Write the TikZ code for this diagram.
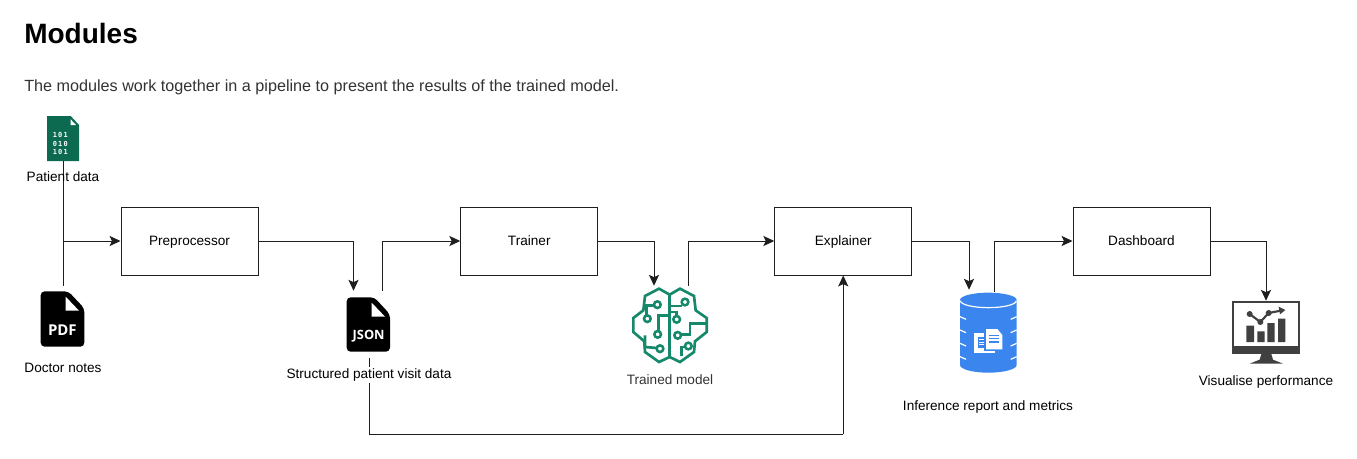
\documentclass[tikz,border=0pt]{standalone}
\usepackage{fontspec}
\setmainfont{Liberation Sans}
\newfontfamily\iconfont{Open Sans}
\newfontfamily\binfont[LetterSpace=18]{DejaVu Sans Mono}
\usetikzlibrary{arrows.meta}
\definecolor{linec}{HTML}{1E1E1E}
\definecolor{sheet}{HTML}{0B6A50}
\definecolor{braing}{HTML}{16896B}
\definecolor{dbblue}{HTML}{3B86EE}
\definecolor{mon}{HTML}{404040}
\definecolor{subt}{HTML}{333333}
\tikzset{
  modbox/.style={draw=linec,line width=0.75pt,minimum width=102.75pt,minimum height=51pt,inner sep=0pt,text height=8pt,text depth=2pt,font=\fontsize{10.2pt}{12pt}\selectfont},
  conn/.style={draw=linec,line width=0.75pt},
  arr/.style={conn,-{Stealth[length=8.2pt,width=7.6pt,inset=1.8pt]}},
  lab/.style={inner sep=0pt,font=\fontsize{10.2pt}{12pt}\selectfont},
  iconbox/.style={inner sep=0pt},
  braint/.style={draw=braing,line width=2pt,line join=miter},
  brainc/.style={draw=braing,line width=1.9pt,fill=white},
}
\begin{document}
\begin{tikzpicture}[x=0.75pt,y=-0.75pt]
\useasboundingbox (0,0) rectangle (1357,458);
\fill[white] (0,0) rectangle (1357,458);
% headings
\node[anchor=west,inner sep=0pt,font=\bfseries\fontsize{21pt}{24pt}\selectfont] (title) at (24,33) {Modules};
\node[anchor=west,inner sep=0pt,text=subt,font=\fontsize{12.14pt}{14pt}\selectfont] (intro) at (24,87) {The modules work together in a pipeline to present the results of the trained model.};
% boxes
\node[modbox] (prep) at (189.5,241) {Preprocessor};
\node[modbox] (train) at (529.25,241) {Trainer};
\node[modbox] (expl) at (843.25,241) {Explainer};
\node[modbox] (dash) at (1141.5,241) {Dashboard};
% icon anchor boxes
\node[iconbox,minimum width=24pt,minimum height=33.75pt] (patient) at (63,138.5) {};
\node[iconbox,minimum width=32.25pt,minimum height=45.75pt] (pdf) at (63,316.5) {};
\node[iconbox,minimum width=32.25pt,minimum height=50.25pt] (json) at (369,324.5) {};
\node[iconbox,minimum width=57.75pt,minimum height=60pt] (brain) at (669.5,324) {};
\node[iconbox,minimum width=42.75pt,minimum height=62.25pt] (db) at (988.5,331.5) {};
\node[iconbox,minimum width=51pt,minimum height=47.25pt] (monitor) at (1266,332.5) {};
% patient file
\begin{scope}[shift={(0,100)},x=0.25pt,y=-0.25pt]
\fill[sheet] (141,48) -- (212,48) -- (237,75) -- (237,183) -- (141,183) -- cycle;
\fill[white] (212,58) -- (212,75) -- (228,75) -- cycle;
\foreach \yy/\tt in {105/101,131/010,156/101}
  \node[white,inner sep=0pt,font=\binfont\bfseries\fontsize{5.2pt}{7pt}\selectfont] at (181,\yy) {\tt};
\end{scope}
% pdf file
\begin{scope}[shift={(0,100)},x=0.25pt,y=-0.25pt]
\fill[black,rounded corners=3pt] (122,574) -- (205,574) -- (253,625) -- (253,740) -- (122,740) -- cycle;
\fill[white] (197,590) -- (197,632) -- (237,632) -- cycle;
\node[white,inner sep=0pt,font=\iconfont\bfseries\fontsize{11.2pt}{12pt}\selectfont] at (187,690) {PDF};
\end{scope}
% json file
\begin{scope}[shift={(280,280)},x=0.25pt,y=-0.25pt]
\fill[black,rounded corners=3pt] (200,52) -- (283,52) -- (330,103) -- (330,215) -- (200,215) -- cycle;
\fill[white] (275,68) -- (275,110) -- (315,110) -- cycle;
\node[white,inner sep=0pt,font=\iconfont\bfseries\fontsize{9.6pt}{11pt}\selectfont] at (266,168) {JSON};
\end{scope}
% brain
\begin{scope}[shift={(625,282)},x=0.25pt,y=-0.25pt]
\draw[braint] (134,38) -- (102,20) -- (60,42) -- (55,85) -- (25,108) -- (25,150) -- (58,178) -- (60,210) -- (102,240) -- (134,225) -- (165,240) -- (207,210) -- (210,178) -- (245,150) -- (245,108) -- (212,85) -- (207,42) -- (165,20) -- cycle;
\draw[braint] (134,38) -- (134,225);
\draw[braint] (58,70) -- (90,70);
\draw[braint] (65,70) -- (65,100);
\draw[braint] (134,100) -- (100,100) -- (100,147);
\draw[braint] (60,160) -- (60,195) -- (95,198);
\draw[braint] (134,72) -- (172,72);
\draw[braint] (134,90) -- (155,90) -- (155,102);
\draw[braint] (245,125) -- (195,125) -- (195,158) -- (168,158);
\draw[braint] (170,222) -- (170,195) -- (182,195);
\foreach \cx/\cy in {97/68,67/110,98/157,105/200,180/60,155/112,158/160,190/192}
  \draw[brainc] (\cx,\cy) circle[radius=10];
\end{scope}
% database
\begin{scope}[shift={(940,280)},x=0.25pt,y=-0.25pt]
\fill[dbblue] (60,60) -- (60,255) arc[start angle=180,end angle=0,x radius=85,y radius=23] -- (230,60) -- cycle;
\fill[dbblue] (145,60) ellipse[x radius=85,y radius=22];
\draw[white,line width=0.9pt] (61,62) arc[start angle=180,end angle=0,x radius=84,y radius=21];
\foreach \yy in {110,150,190,230} {
  \draw[white,line width=0.9pt] (60,\yy) -- (78,\yy+8);
  \draw[white,line width=0.9pt] (230,\yy) -- (212,\yy+8);
}
\fill[white] (103,160) rectangle (165,218);
\fill[dbblue] (115,172) rectangle (135,205);
\draw[white,line width=0.7pt] (117,178) -- (132,178) (117,186) -- (132,186) (117,194) -- (132,194);
\fill[dbblue] (133,143) rectangle (192,212);
\fill[white] (138,147) -- (172,147) -- (187,165) -- (187,208) -- (138,208) -- cycle;
\draw[dbblue,line width=1pt] (146,166) -- (178,166) (146,176) -- (178,176) (146,186) -- (178,186);
\end{scope}
% monitor
\begin{scope}[shift={(1228,298)},x=0.25pt,y=-0.25pt]
\fill[mon] (12,10) rectangle (215,168);
\fill[white] (18,15) rectangle (210,145);
\fill[mon] (100,168) -- (130,168) -- (135,185) -- (165,197) -- (65,197) -- (95,185) -- cycle;
\fill[mon] (55,83) rectangle (78,132) (88,100) rectangle (110,132) (118,75) rectangle (140,132) (150,62) rectangle (172,132);
\draw[mon,line width=1.6pt] (65,48) -- (97,72) -- (122,45) -- (158,38);
\fill[mon] (172,36) -- (152,26) -- (156,49) -- cycle;
\fill[mon] (65,48) circle[radius=9] (97,72) circle[radius=9] (122,45) circle[radius=9];
\end{scope}
% connectors
\coordinate (junc) at (63,241);
\coordinate (loop) at (843.25,434);
\draw[conn] (patient.south) -- (pdf.north);
\draw[arr] (junc) -- (prep.west);
\draw[arr] (prep.east) -| ([xshift=-11.625pt]json.north);
\draw[arr] ([xshift=9.75pt]json.north) |- (train.west);
\draw[arr] (train.east) -| ([xshift=-11.625pt,yshift=-1.5pt]brain.north);
\draw[arr] ([xshift=14.25pt,yshift=-1.5pt]brain.north) |- (expl.west);
\draw[arr] (expl.east) -| ([xshift=-14.625pt]db.north);
\draw[arr] ([xshift=4.125pt,yshift=-1.5pt]db.north) |- (dash.west);
\draw[arr] (dash.east) -| (monitor.north);
\draw[conn] (json.south) |- (loop);
\draw[arr] (loop) -- (expl.south);
% labels
\node[lab] (lpatient) at (63,176.5) {Patient data};
\node[lab] (lpdf) at (63,368) {Doctor notes};
\node[lab,fill=white,inner ysep=1.5pt] (ljson) at (369,375) {Structured patient visit data};
\node[lab,text=subt] (lbrain) at (670,380) {Trained model};
\node[lab] (ldb) at (988,406.5) {Inference report and metrics};
\node[lab] (lmon) at (1266,381.5) {Visualise performance};
\end{tikzpicture}
\end{document}
